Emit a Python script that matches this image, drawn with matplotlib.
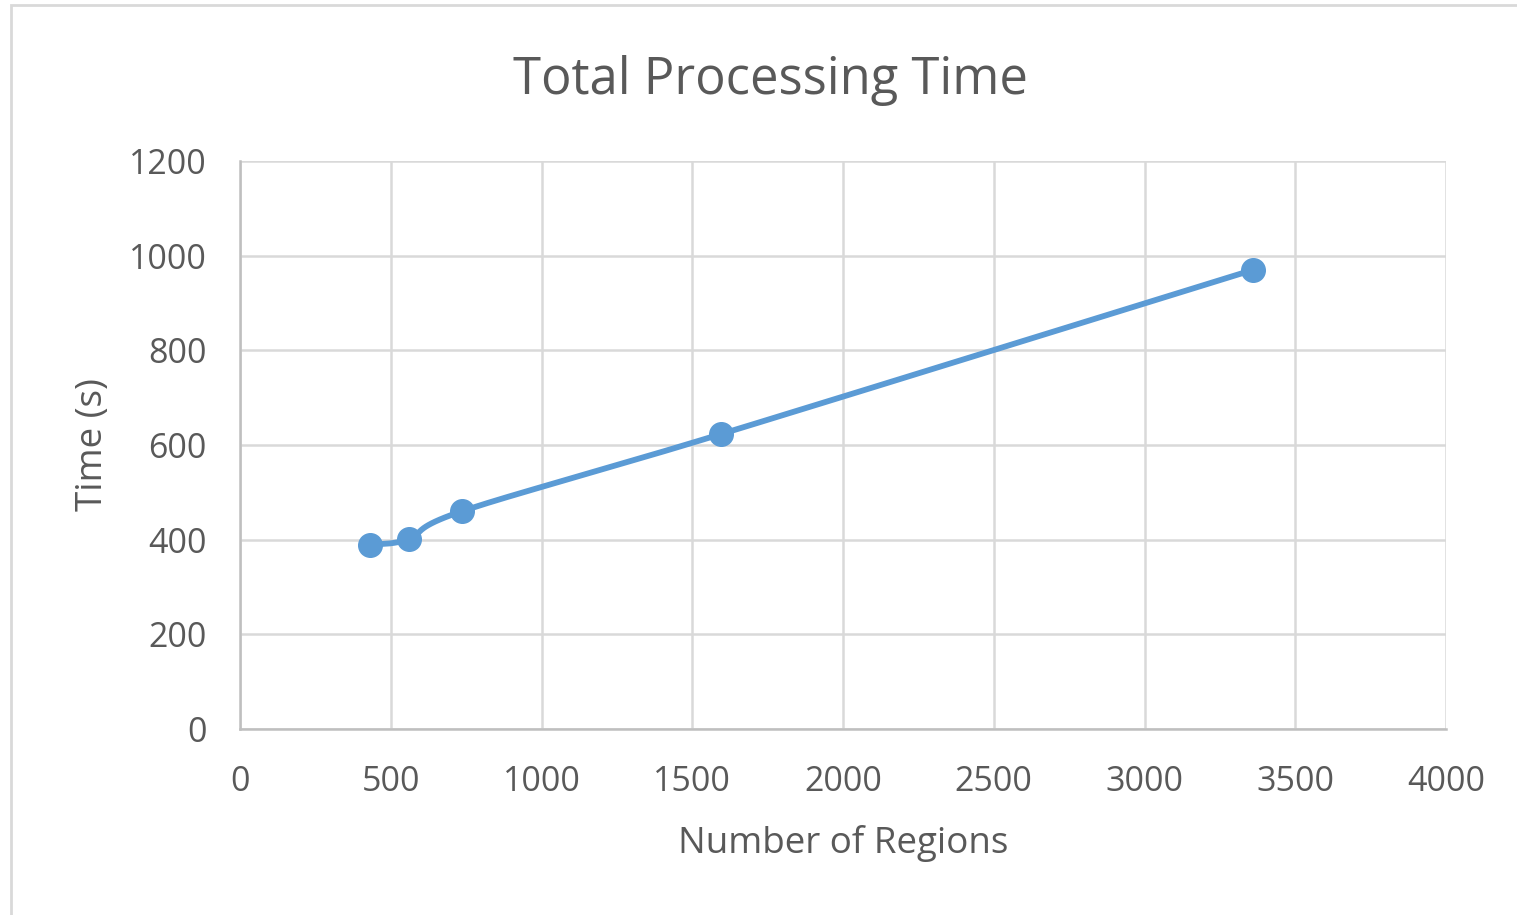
import numpy as np
import matplotlib.pyplot as plt
from matplotlib.patches import Rectangle

# values
regions = [431, 560, 736, 1595, 3360]
times = [389, 401, 460, 623, 970]
xticks = [0, 500, 1000, 1500, 2000, 2500, 3000, 3500, 4000]
yticks = [0, 200, 400, 600, 800, 1000, 1200]

blue = "#5B9BD5"
txt = "#595959"
grid = "#D9D9D9"

plt.rcParams['font.family'] = ['Open Sans', 'DejaVu Sans']

W, H = 1517, 915
fig = plt.figure(figsize=(W / 100, H / 100), dpi=100)
ax = fig.add_axes([240 / W, 1 - 729 / H, (1446 - 240) / W, (729 - 161) / H])

# chart border like the spreadsheet chart area
fig.patches.append(Rectangle((11 / W, -0.05), 1.1, 1 - 5 / H + 0.05,
                             transform=fig.transFigure, fill=False,
                             edgecolor="#D9D9D9", linewidth=2))

ax.set_xlim(0, 4000)
ax.set_ylim(0, 1200)


# smoothed line (bezier through the points, like "smoothed line" option)
def smooth(xs, ys, sx, sy, n=40):
    p = np.column_stack([np.array(xs) * sx, np.array(ys) * sy])
    pts = np.vstack([p[0], p, p[-1]])
    out = []
    for i in range(1, len(pts) - 2):
        p0, p1, p2, p3 = pts[i - 1], pts[i], pts[i + 1], pts[i + 2]
        c1 = p1 + (p2 - p0) / 6
        c2 = p2 - (p3 - p1) / 6
        t = np.linspace(0, 1, n)[:, None]
        seg = ((1 - t) ** 3) * p1 + 3 * ((1 - t) ** 2) * t * c1 + 3 * (1 - t) * t ** 2 * c2 + t ** 3 * p2
        out.append(seg)
    out = np.vstack(out)
    return out[:, 0] / sx, out[:, 1] / sy


sx = (1446 - 240) / 4000
sy = (729 - 161) / 1200
lx, ly = smooth(regions, times, sx, sy)
ax.plot(lx, ly, color=blue, linewidth=4.2, solid_capstyle="round", zorder=3)
ax.plot(regions, times, "o", color=blue, markersize=17, zorder=4)

ax.set_xticks(xticks)
ax.set_yticks(yticks)
ax.grid(True, color=grid, linewidth=1.8)
ax.set_axisbelow(True)
for s in ["top", "right"]:
    ax.spines[s].set_visible(False)
for s in ["left", "bottom"]:
    ax.spines[s].set_color("#BFBFBF")
    ax.spines[s].set_linewidth(1.8)
ax.tick_params(length=0, labelsize=24.5, colors=txt)
ax.tick_params(axis="y", pad=24)
ax.tick_params(axis="x", pad=26)

ax.set_xlabel("Number of Regions", fontsize=26.5, color=txt, va="center")
ax.xaxis.set_label_coords(0.5, (729 - 843) / 568)
ax.set_ylabel("Time (s)", fontsize=26.5, color=txt, va="center")
ax.yaxis.set_label_coords((93 - 240) / 1206, 0.5)
fig.text(770 / W, 1 - 80 / H, "Total Processing Time", fontsize=36.5, color=txt,
         ha="center", va="center")

fig.savefig("out.png", dpi=100)
